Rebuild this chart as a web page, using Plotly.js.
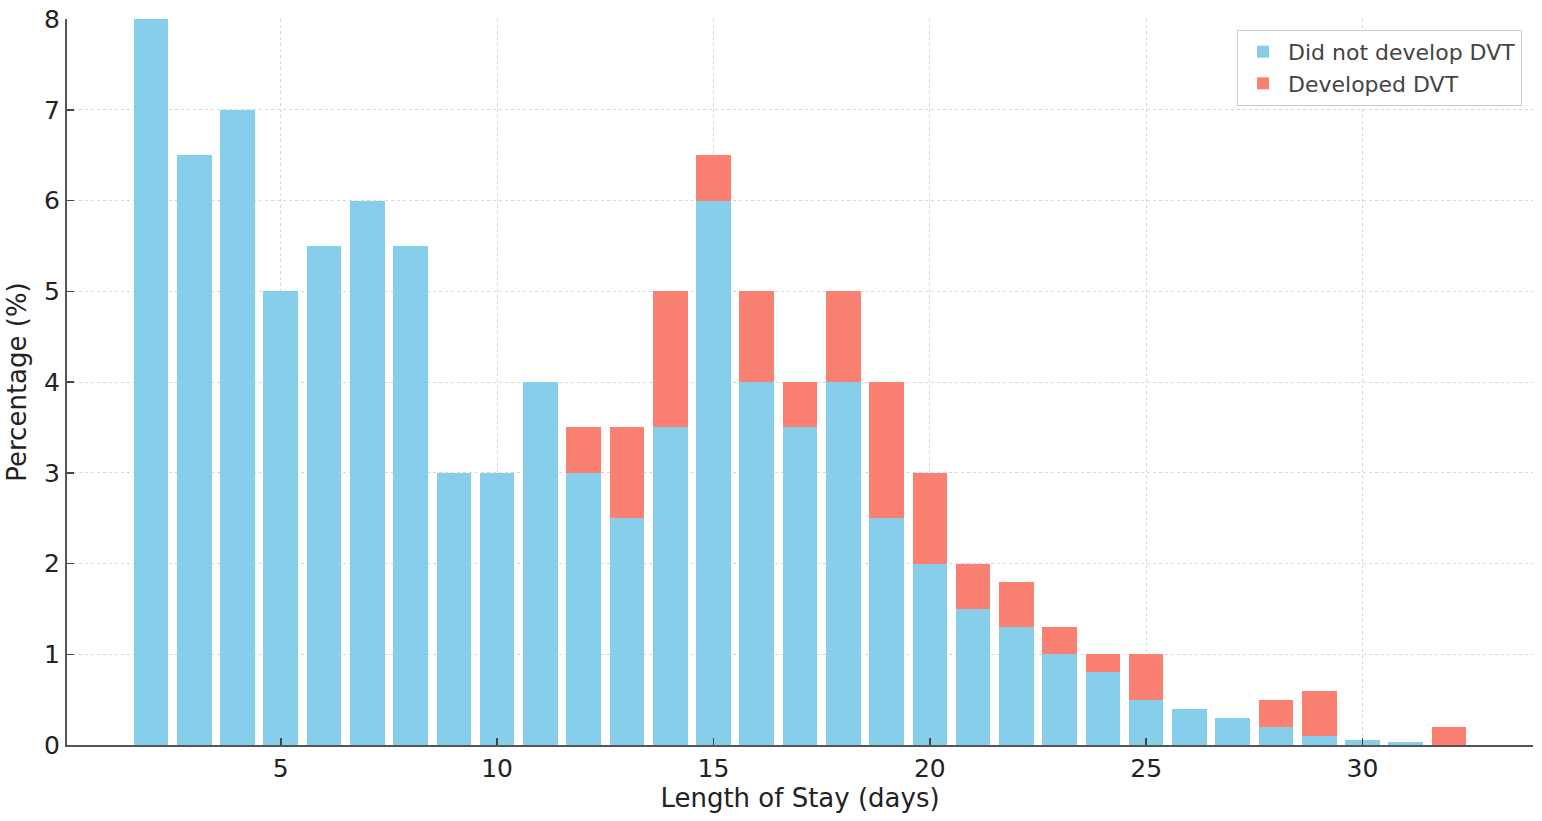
<!DOCTYPE html>
<html>
<head>
<meta charset="utf-8">
<script src="https://cdn.plot.ly/plotly-3.0.1.min.js"></script>
<style>
  html, body { margin: 0; padding: 0; background: #fff; }
  #myChart { width: 1542px; height: 821px; }
</style>
</head>
<body>
<div id="myChart"></div>
<script>
// length of stay in days
var stayDays = [2, 3, 4, 5, 6, 7, 8, 9, 10, 11, 12, 13, 14, 15, 16, 17,
                18, 19, 20, 21, 22, 23, 24, 25, 26, 27, 28, 29, 30, 31, 32];

// percentage, did not develop DVT (bottom of each stack)
var noDvt = [8, 6.5, 7, 5, 5.5, 6, 5.5, 3, 3, 4, 3, 2.5, 3.5, 6, 4, 3.5,
             4, 2.5, 2, 1.5, 1.3, 1.0, 0.8, 0.5, 0.4, 0.3, 0.2, 0.1, 0.05, 0.03, 0];

// percentage, developed DVT (stacked on top)
var dvt = [0, 0, 0, 0, 0, 0, 0, 0, 0, 0, 0.5, 1, 1.5, 0.5, 1, 0.5,
           1, 1.5, 1, 0.5, 0.5, 0.3, 0.2, 0.5, 0, 0, 0.3, 0.5, 0, 0, 0.2];

var xTicks = [5, 10, 15, 20, 25, 30];
var yTicks = [0, 1, 2, 3, 4, 5, 6, 7, 8];

var data = [
  {
    x: stayDays,
    y: noDvt,
    name: 'Did not develop DVT',
    type: 'bar',
    marker: { color: '#87CEEB', line: { width: 0 } },
    hoverinfo: 'skip'
  },
  {
    x: stayDays,
    y: dvt,
    name: 'Developed DVT',
    type: 'bar',
    marker: { color: '#FA8072', line: { width: 0 } },
    hoverinfo: 'skip'
  }
];

var layout = {
  barmode: 'stack',
  bargap: 0.2,
  paper_bgcolor: '#ffffff',
  plot_bgcolor: '#ffffff',
  font: { family: 'DejaVu Sans', size: 26, color: '#222222' },
  margin: { l: 67, r: 9, t: 19, b: 76, pad: 0 },
  xaxis: {
    range: [0.06, 33.94],
    tickvals: xTicks,
    ticks: 'inside',
    ticklen: 7,
    tickwidth: 1.5,
    tickcolor: '#444444',
    showline: true,
    linecolor: '#555555',
    linewidth: 2,
    showgrid: true,
    gridcolor: '#d6d6d6',
    griddash: 'dot',
    gridwidth: 1,
    zeroline: false,
    tickfont: { size: 25, color: '#222222' },
    title: { text: 'Length of Stay (days)', font: { size: 26, color: '#222222' }, standoff: 6 }
  },
  yaxis: {
    range: [0, 8],
    tickvals: yTicks,
    ticks: 'inside',
    ticklen: 7,
    tickwidth: 1.5,
    tickcolor: '#444444',
    showline: true,
    linecolor: '#555555',
    linewidth: 2,
    showgrid: true,
    gridcolor: '#d6d6d6',
    griddash: 'dot',
    gridwidth: 1,
    zeroline: false,
    tickfont: { size: 25, color: '#222222' },
    title: { text: 'Percentage (%)', font: { size: 26, color: '#222222' }, standoff: 10 }
  },
  legend: {
    x: 0.9925,
    y: 0.985,
    xanchor: 'right',
    yanchor: 'top',
    bgcolor: '#ffffff',
    bordercolor: '#cccccc',
    borderwidth: 1,
    traceorder: 'normal',
    itemwidth: 40,
    font: { size: 22, color: '#444444' }
  },
  showlegend: true
};

Plotly.newPlot('myChart', data, layout, { displayModeBar: false, responsive: false, staticPlot: true });
</script>
</body>
</html>
